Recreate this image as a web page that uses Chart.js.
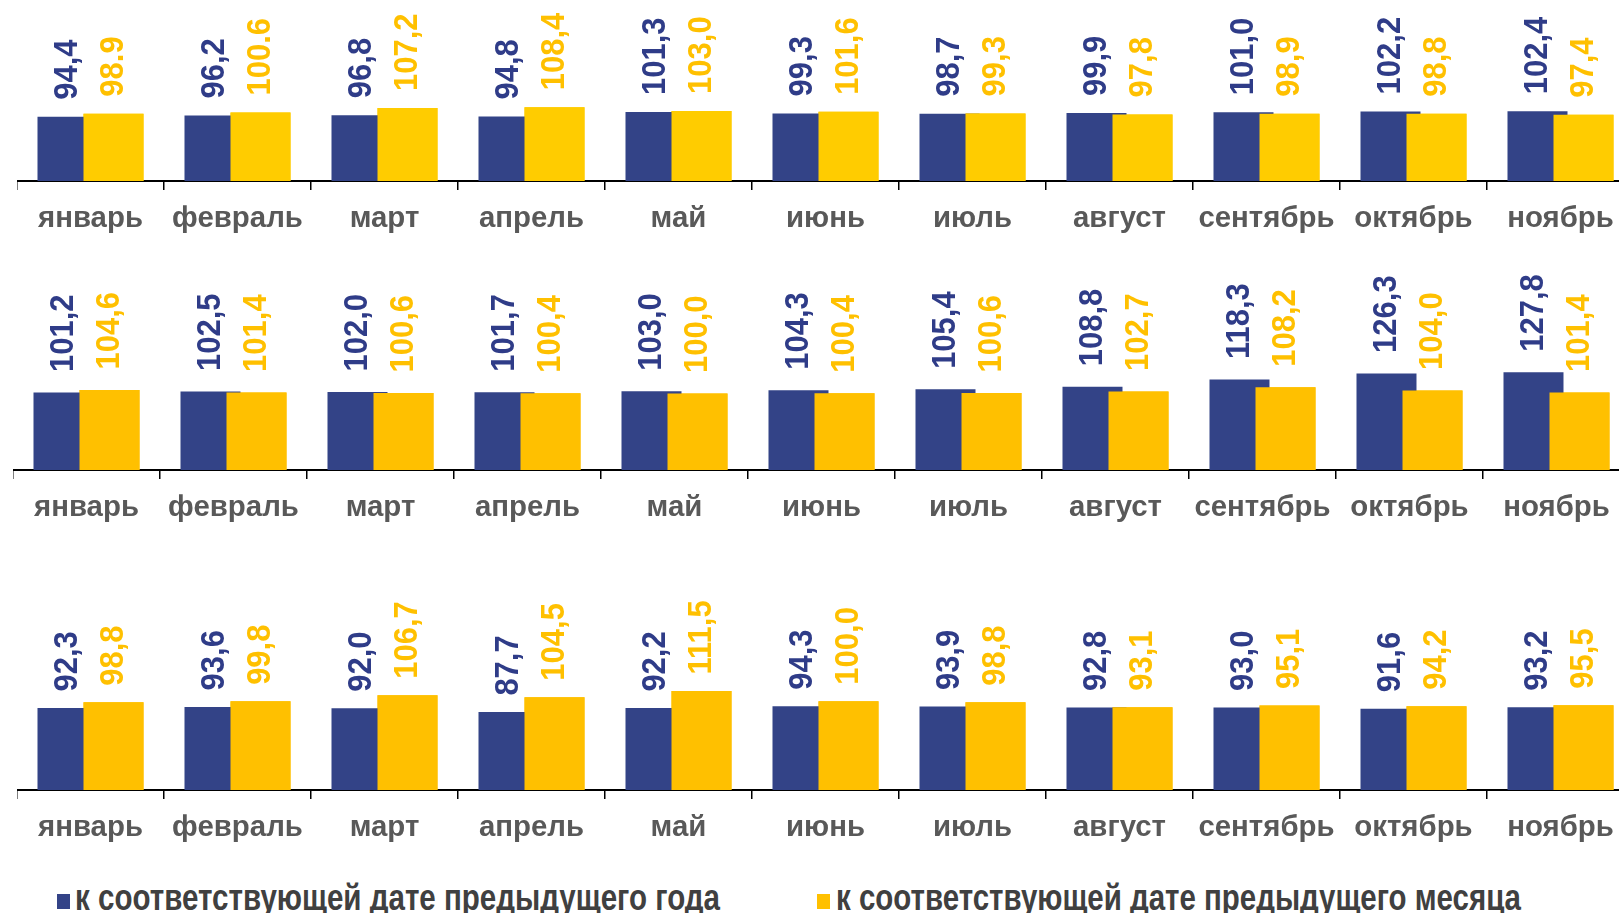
<!DOCTYPE html>
<html>
<head>
<meta charset="utf-8">
<script src="https://cdn.jsdelivr.net/npm/chart.js@4.4.1/dist/chart.umd.min.js"></script>
<style>
  html, body { margin: 0; padding: 0; background: #fff; overflow: hidden; width: 1619px; height: 913px; }
  .panel { position: absolute; }
  .key { position: absolute; width: 13px; height: 15px; top: 894px; }
  .key-text { position: absolute; top: 880px; font: bold 36px "Liberation Sans", Arial, sans-serif; line-height: 36px;
              color: #404040; white-space: nowrap; transform-origin: 0 0; }
</style>
</head>
<body>
<div class="panel" style="left:17px; top:0; width:1617px; height:241px"><canvas id="chartTop"></canvas></div>
<div class="panel" style="left:13px; top:250px; width:1617px; height:280px"><canvas id="chartMid"></canvas></div>
<div class="panel" style="left:17px; top:560px; width:1617px; height:290px"><canvas id="chartBottom"></canvas></div>

<div class="key" style="left:57px; background:#334387"></div>
<div class="key-text" id="keyYear" style="left:75px" data-w="645">к соответствующей дате предыдущего года</div>
<div class="key" style="left:817px; background:#FFC000"></div>
<div class="key-text" id="keyMonth" style="left:836px" data-w="685">к соответствующей дате предыдущего месяца</div>

<script>
const months = ['январь', 'февраль', 'март', 'апрель', 'май', 'июнь', 'июль', 'август', 'сентябрь', 'октябрь', 'ноябрь'];

const yoyTop = [94.4, 96.2, 96.8, 94.8, 101.3, 99.3, 98.7, 99.9, 101.0, 102.2, 102.4];
const momTop = [98.9, 100.6, 107.2, 108.4, 103.0, 101.6, 99.3, 97.8, 98.9, 98.8, 97.4];

const yoyMid = [101.2, 102.5, 102.0, 101.7, 103.0, 104.3, 105.4, 108.8, 118.3, 126.3, 127.8];
const momMid = [104.6, 101.4, 100.6, 100.4, 100.0, 100.4, 100.6, 102.7, 108.2, 104.0, 101.4];

const yoyBottom = [92.3, 93.6, 92.0, 87.7, 92.2, 94.3, 93.9, 92.8, 93.0, 91.6, 93.2];
const momBottom = [98.8, 99.8, 106.7, 104.5, 111.5, 100.0, 98.8, 93.1, 95.1, 94.2, 95.5];

// in the source the first two labels of the top yellow series are written with a point
const dotLabelsTop = [0, 1];

const FONT = '"Liberation Sans", Arial, sans-serif';
const BLUE = '#334387';
const BLUE_TEXT = '#2F3C88';
const YELLOW_TEXT = '#FFC000';

function fmt(v, dot) {
  const s = v.toFixed(1);
  return dot ? s : s.replace('.', ',');
}

const barLabels = {
  id: 'barLabels',
  afterDatasetsDraw(chart, args, opts) {
    const ctx = chart.ctx;
    // the yellow bars sit over the blue ones
    chart.getDatasetMeta(1).data.forEach(el => el.draw(ctx));

    ctx.save();
    ctx.font = 'bold 31px ' + FONT;
    ctx.textAlign = 'left';
    ctx.textBaseline = 'middle';
    chart.data.datasets.forEach((ds, di) => {
      ctx.fillStyle = ds.labelColor;
      chart.getDatasetMeta(di).data.forEach((bar, i) => {
        const dot = ds.dotIdx ? ds.dotIdx.includes(i) : false;
        ctx.save();
        ctx.translate(bar.x, bar.y - opts.gap);
        ctx.rotate(-Math.PI / 2);
        ctx.scale(1, 1.1); // labels are a bit thicker in the source
        ctx.fillText(fmt(ds.data[i], dot), 0, 0);
        ctx.restore();
      });
    });
    ctx.restore();
  }
};

function makeChart(id, yoy, mom, momColor, yMax, gap, dotIdx) {
  return new Chart(document.getElementById(id), {
    type: 'bar',
    data: {
      labels: months,
      datasets: [
        { label: 'к соответствующей дате предыдущего года', data: yoy, backgroundColor: BLUE, labelColor: BLUE_TEXT },
        { label: 'к соответствующей дате предыдущего месяца', data: mom, backgroundColor: momColor, labelColor: YELLOW_TEXT, dotIdx: dotIdx }
      ]
    },
    options: {
      responsive: true,
      maintainAspectRatio: false,
      animation: false,
      layout: { padding: 0 },
      datasets: { bar: { categoryPercentage: 0.626, barPercentage: 1.304 } },
      plugins: {
        legend: { display: false },
        tooltip: { enabled: false },
        barLabels: { gap: gap }
      },
      scales: {
        x: {
          grid: { display: true, drawOnChartArea: false, drawTicks: true, tickLength: 9, color: '#000', lineWidth: 1.5, offset: true },
          border: { display: true, color: '#000', width: 2 },
          ticks: { color: '#595959', padding: 11.5, autoSkip: false, maxRotation: 0,
                   font: { family: FONT, size: 29.4, weight: 'bold' } },
          afterFit: s => { s.height = 60; }
        },
        y: { display: false, min: 0, max: yMax }
      }
    },
    plugins: [barLabels]
  });
}

makeChart('chartTop', yoyTop, momTop, '#FFCC00', 266, 17, dotLabelsTop);
makeChart('chartMid', yoyMid, momMid, '#FFC000', 287.6, 20.5, null);
makeChart('chartBottom', yoyBottom, momBottom, '#FFC000', 259, 16.5, null);

// legend text is condensed in the source
document.querySelectorAll('.key-text').forEach(el => {
  const w = el.getBoundingClientRect().width;
  el.style.transform = 'scaleX(' + (el.dataset.w / w) + ')';
});
</script>
</body>
</html>
